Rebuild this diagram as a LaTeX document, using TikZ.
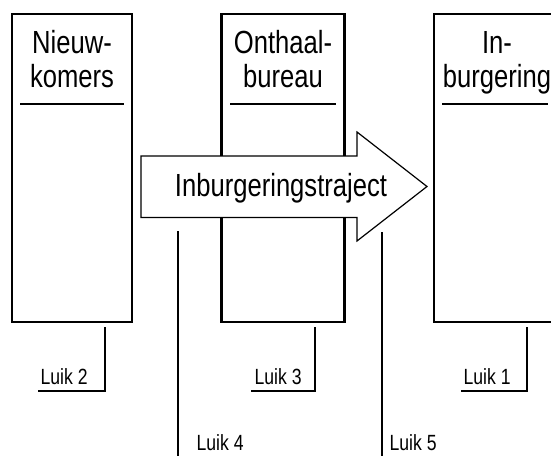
\documentclass[tikz,border=0pt]{standalone}
\usepackage{fontspec}
\newfontfamily\smalarial[FakeStretch=0.8]{Liberation Sans}
\usetikzlibrary{positioning}

\begin{document}
\begin{tikzpicture}[x=1pt, y=-1pt, line width=1.2pt,
    kolom/.style={draw, rectangle, minimum height=308pt, inner sep=0pt},
    kop/.style={font=\smalarial\fontsize{32}{34}\selectfont, anchor=base, inner sep=0pt},
    luik/.style={font=\smalarial\fontsize{22}{24}\selectfont, anchor=base west, inner sep=0pt}]
    \useasboundingbox (0,0) rectangle (551,455);
    \clip (0,0) rectangle (551,455);

    % Draw the three columns
    \node[kolom, minimum width=120pt] (nieuw) at (72,168) {};
    \node[kolom, minimum width=122pt] (onthaal) at (283,168) {};
    \node[kolom, minimum width=122pt] (inburg) at (495,168) {};
    \draw[line width=3pt] (onthaal.north west) -- (onthaal.south west);
    \draw[line width=3pt] (onthaal.north east) -- (onthaal.south east);

    % Headings, with a rule below
    \node[kop] (nieuw1) at (72,53) {Nieuw-};
    \node[kop] (nieuw2) at (72,87) {komers};
    \node[kop] (ontha1) at (283,53) {Onthaal-};
    \node[kop] (ontha2) at (283,87) {bureau};
    \node[kop] (inbur1) at (497,53) {In-};
    \node[kop] (inbur2) at (497,87) {burgering};
    \draw (20,104) -- (124,104);
    \draw (230,104) -- (336,104);
    \draw (442,104) -- (548,104);

    % The arrow across the columns
    \filldraw[fill=white] (141,156) -- (357,156) -- (357,132) -- (427,186.5)
        -- (357,241) -- (357,217.5) -- (141,217.5) -- cycle;
    \node[kop] (traject) at (281,196) {Inburgeringstraject};

    % Luik labels under the columns
    \node[luik] (luik2) at (40,384) {Luik 2};
    \node[luik] (luik3) at (254,384) {Luik 3};
    \node[luik] (luik1) at (463,384) {Luik 1};
    \coordinate (luik2top) at (105,327);
    \coordinate (luik2end) at (38,391);
    \coordinate (luik3top) at (315,327);
    \coordinate (luik3end) at (251,391);
    \coordinate (luik1top) at (527,327);
    \coordinate (luik1end) at (461,391);
    \draw (luik2top) |- (luik2end);
    \draw (luik3top) |- (luik3end);
    \draw (luik1top) |- (luik1end);

    % Luik labels under the arrow
    \node[luik] (luik4) at (196,450) {Luik 4};
    \node[luik] (luik5) at (389,450) {Luik 5};
    \coordinate (luik4top) at (178,231);
    \coordinate (luik4bot) at (178,456);
    \coordinate (luik5top) at (382,232);
    \coordinate (luik5bot) at (382,456);
    \draw (luik4top) -- (luik4bot);
    \draw (luik5top) -- (luik5bot);
\end{tikzpicture}
\end{document}
